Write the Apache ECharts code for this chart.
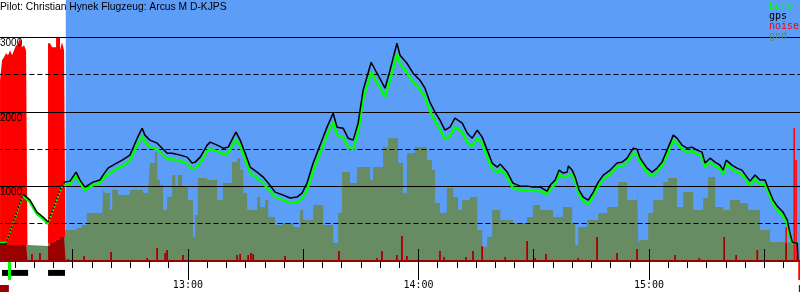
<!DOCTYPE html>
<html><head><meta charset="utf-8">
<script src="https://cdn.jsdelivr.net/npm/echarts@6/dist/echarts.min.js"></script>
<style>html,body{margin:0;padding:0;background:#fff}#c{width:800px;height:300px}</style>
</head><body><div id="c"></div>
<script>
// ---------- data (time = minutes since midnight, altitude = m, noise = ENL 0..1000) ----------
const titleText = 'Pilot: Christian Hynek Flugzeug: Arcus M D-KJPS';
const legendNames = ['baro', 'gps', 'noise', 'gnd'];
const hourTicks = [780, 840, 900]; // 13:00 14:00 15:00

const flightTimes = [731.1,732.7,734.7,737.1,738.9,740.7,742.3,743.6,745.4,747.2,748.0,749.3,750.9,751.9,753.2,755.3,757.1,757.9,759.2,761.0,762.9,764.9,766.8,768.1,768.8,770.1,772.0,773.3,774.6,775.9,778.0,779.8,781.1,781.9,783.2,785.0,785.8,787.6,789.2,790.5,791.8,792.5,793.6,794.9,796.2,798.0,799.6,800.9,802.7,804.8,806.6,808.4,809.7,811.0,812.6,814.4,816.2,817.8,818.8,820.4,821.7,823.0,824.3,825.6,827.7,829.2,830.5,831.3,832.6,834.4,835.2,837.0,838.6,840.4,841.7,843.0,844.3,845.6,846.9,848.2,849.5,851.4,852.7,854.0,855.3,856.6,857.9,859.2,860.5,861.3,863.1,864.6,866.5,868.3,869.8,871.7,873.5,874.3,875.6,876.6,877.7,878.7,879.0,880.0,880.8,881.8,882.9,884.2,885.5,886.8,888.1,889.9,891.7,893.0,894.3,895.9,896.9,897.7,899.5,900.8,902.1,903.4,904.7,905.8,906.3,907.3,908.6,909.9,911.2,912.5,913.8,914.6,915.9,917.2,918.5,919.3,920.1,921.6,922.9,924.2,925.5,926.3,927.6,928.9,930.2,931.0,932.3,933.6,934.9,936.0,936.7,937.3,938.0,938.6,938.8];
const gpsAlt = [228,228,549,897,817,656,589,522,777,1018,1058,1071,1192,1085,991,1058,1085,1152,1246,1299,1353,1420,1647,1781,1688,1621,1580,1513,1446,1446,1420,1393,1313,1326,1393,1554,1594,1554,1513,1527,1661,1728,1621,1446,1259,1192,1125,1045,924,884,844,857,911,1045,1313,1554,1795,1982,1795,1781,1647,1621,1848,2290,2665,2518,2397,2317,2558,2920,2759,2652,2518,2424,2317,2129,1996,1888,1754,1795,1915,1848,1714,1647,1754,1661,1487,1313,1259,1299,1192,1045,1004,1004,991,991,938,1018,1085,1219,1179,1192,1272,1219,1125,951,857,817,924,1058,1152,1219,1313,1326,1379,1513,1500,1379,1246,1192,1246,1326,1487,1621,1688,1647,1554,1513,1527,1487,1460,1313,1379,1326,1286,1219,1353,1286,1246,1219,1125,1071,1152,1085,1085,978,817,723,656,549,375,254,241,241,13];
const baroAlt = [241,241,536,870,790,629,562,495,750,991,1018,1031,1152,1045,951,1018,1045,1099,1166,1219,1273,1340,1553,1674,1594,1527,1500,1433,1366,1366,1340,1313,1233,1246,1313,1474,1500,1474,1433,1447,1567,1634,1541,1366,1179,1112,1045,965,857,817,777,790,831,951,1206,1447,1688,1862,1688,1661,1527,1500,1728,2170,2531,2397,2277,2197,2424,2785,2638,2531,2397,2303,2197,2009,1875,1767,1634,1674,1795,1728,1594,1540,1647,1567,1393,1233,1192,1232,1125,978,951,951,938,938,897,964,1031,1165,1125,1138,1150,1165,1071,897,803,763,870,1004,1098,1165,1259,1272,1325,1446,1433,1325,1192,1138,1192,1272,1420,1554,1621,1580,1500,1460,1473,1433,1406,1259,1325,1272,1232,1165,1299,1232,1192,1165,1071,1017,1098,1031,1031,924,763,669,602,495,321,241,241,241,241];
// periods with sparse fixes (drawn dotted) [from, to]
const sparseFix = [[732.7,737.1],[743.6,748.0]];

// ground elevation, step values [time, m]
const gndPts = [[731.1,214],[738.4,201],[743.6,241],[745.4,281],[746.7,321],[748.0,415],[751.1,442],[752.4,482],[753.7,643],[757.7,549],[757.9,951],[758.4,911],[759.7,683],[760.3,951],[761.8,884],[764.9,951],[768.3,911],[769.6,857],[770.1,1313],[771.4,1460],[772.0,1085],[772.7,1018],[773.5,683],[774.6,857],[775.9,1152],[776.7,991],[777.4,1152],[778.5,991],[780.0,817],[781.3,321],[781.9,616],[782.6,1112],[785.0,1085],[787.6,817],[789.1,1045],[791.5,1326],[792.8,1379],[793.6,1219],[794.4,911],[795.4,683],[798.0,857],[798.8,723],[800.1,817],[800.9,589],[802.7,482],[804.5,509],[807.4,455],[809.2,683],[810.0,549],[812.6,750],[815.2,482],[817.8,241],[819.1,643],[820.1,1192],[822.2,1045],[824.0,1259],[827.4,1085],[828.2,1259],[830.8,1527],[832.1,1647],[834.7,1313],[836.0,911],[837.0,1446],[839.1,1527],[842.2,1353],[843.5,1219],[844.3,777],[845.6,643],[847.4,978],[849.0,857],[850.3,683],[851.4,817],[853.4,857],[855.3,415],[856.6,188],[857.9,321],[859.2,683],[861.3,549],[864.6,509],[868.3,589],[869.8,750],[871.7,683],[875.0,589],[877.6,723],[880.0,509],[880.8,214],[881.6,455],[883.9,549],[886.8,643],[889.1,723],[892.0,1058],[894.3,817],[896.9,1058],[897.2,241],[897.7,281],[899.8,643],[901.1,817],[903.7,1058],[905.0,1112],[907.3,723],[908.9,924],[911.5,683],[914.1,844],[915.4,1125],[917.2,723],[919.3,683],[921.1,817],[923.7,777],[925.8,683],[928.9,415],[931.5,254],[934.9,241],[937.5,0]];

// engine noise (ENL) while the motor runs, step values
const engineNoise = [[731.10,808],[731.62,897],[732.14,911],[732.66,929],[733.18,920],[733.70,942],[734.22,920],[734.74,942],[735.26,964],[735.79,973],[736.31,1000],[736.83,955],[737.35,964],[737.87,942],[738.26,0],[743.59,973],[744.12,973],[744.64,955],[745.16,955],[745.68,996],[746.20,1000],[746.72,942],[747.24,978],[747.76,942],[748.15,0]];
// isolated noise spikes (ENL)
const noiseSpikes = [[739.4,31],[741.5,36],[748.8,9],[753.0,22],[760.0,40],[769.4,13],[772.0,58],[774.1,36],[774.6,49],[778.7,27],[792.8,27],[793.6,31],[795.7,27],[796.4,36],[797.0,31],[805.3,22],[819.3,45],[829.2,13],[830.5,45],[834.4,27],[835.7,112],[837.0,22],[845.6,45],[846.7,18],[852.4,18],[854.2,45],[856.6,67],[862.6,18],[868.3,89],[870.4,13],[873.2,31],[881.6,13],[886.5,107],[891.7,36],[896.9,54],[906.8,27],[913.1,13],[919.6,107],[922.7,27],[928.2,49],[935.7,152],[937.8,594],[938.3,451]];

const engineRuns = [[731.6,738.4],[743.6,748.0]];
const takeoffTime = 733.4, landingTime = 939.0, logStart = 731.0, logEnd = 940.0;
const glideStart = 748.2; // blue (engine-off) period start

const AXIS_MIN = 720, AXIS_MAX = 960, ALT_MAX = 3500;
const ENL_FULL_ALT = 3000; // ENL 1000 drawn at 3000 m
const NOISE_MAX = ALT_MAX * 1000 / ENL_FULL_ALT;

// ---------- styling ----------
const BLUE = '#5b9df7', OLIVE = '#678b63', LIME = '#00ff00', RED = '#ff0000', DARK = '#9a0000';
const GL = -42.6, GR = -79.5;

function gndAt(t) {
  let v = gndPts[0][1];
  for (const p of gndPts) { if (p[0] <= t) v = p[1]; else break; }
  return v;
}
const toEnl = m => m * 1000 / ENL_FULL_ALT;
const engineNoiseUnder = engineNoise.map(([t, v]) => [t, Math.min(v, toEnl(gndAt(t)))]);
const spikesUnder = noiseSpikes.map(([t, v]) => [t, Math.min(v, toEnl(gndAt(t)))]);

function splitTrack(vals) {
  const solid = [], dotted = [];
  flightTimes.forEach((t, i) => {
    const inside = sparseFix.some(([a, b]) => t > a && t < b);
    const onSpan = sparseFix.some(([a, b]) => t >= a && t <= b);
    solid.push([t, inside ? '-' : vals[i]]);
    dotted.push([t, onSpan ? vals[i] : '-']);
  });
  return { solid, dotted };
}
const baroTrack = splitTrack(baroAlt);
const gpsTrack = splitTrack(gpsAlt);

const fmtTime = v => Math.floor(v / 60) + ':' + String(Math.round(v % 60)).padStart(2, '0');
const legendColors = { baro: LIME, gps: '#000', noise: RED, gnd: OLIVE };

function trackSeries(name, data, color, width, dotted) {
  return { name, type: 'line', xAxisIndex: 0, yAxisIndex: 0, data, connectNulls: false,
    symbol: 'none', lineStyle: { color, width, type: dotted ? [1.5, 2] : 'solid' },
    itemStyle: { color }, z: 4 };
}

const chart = echarts.init(document.getElementById('c'), null, { renderer: 'canvas' });
chart.setOption({
  animation: false,
  backgroundColor: '#fff',
  title: {
    text: titleText, left: 0, top: 2.5, padding: 0,
    textStyle: { fontFamily: 'Liberation Sans', fontSize: 10.3, fontWeight: 'normal', color: '#000', lineHeight: 10 }
  },
  legend: {
    orient: 'vertical', left: 764, top: 1, padding: 0, itemGap: 0,
    itemWidth: 0, itemHeight: 0, icon: 'rect', selectedMode: false,
    textStyle: { fontFamily: 'DejaVu Sans Mono', fontSize: 10, lineHeight: 10 },
    data: legendNames.map(n => ({ name: n, textStyle: { color: legendColors[n] } }))
  },
  grid: [
    { left: GL, right: GR, top: 0, bottom: 39, outerBoundsMode: 'none', containLabel: false },
    { left: GL, right: GR, top: 262, height: 18, outerBoundsMode: 'none', containLabel: false },
    { left: GL, right: GR, top: 285, height: 7, outerBoundsMode: 'none', containLabel: false }
  ],
  xAxis: [
    { type: 'value', gridIndex: 0, min: AXIS_MIN, max: AXIS_MAX, interval: 60, z: 3,
      axisLine: { show: true, onZero: false, lineStyle: { color: DARK, width: 2 } },
      axisTick: { show: true, length: 19, lineStyle: { color: '#000', width: 1 } },
      minorTick: { show: true, splitNumber: 12, length: 7, lineStyle: { color: '#000', width: 1 } },
      axisLabel: { show: true, margin: 19, formatter: fmtTime, color: '#000',
        fontFamily: 'DejaVu Sans Mono', fontSize: 10, lineHeight: 10,
        customValues: hourTicks },
      splitLine: { show: false }, minorSplitLine: { show: false } },
    { type: 'value', gridIndex: 0, min: AXIS_MIN, max: AXIS_MAX, interval: 30, z: 3,
      axisLine: { show: false }, axisLabel: { show: false }, splitLine: { show: false },
      axisTick: { show: true, length: 12, lineStyle: { color: '#000', width: 1 } } },
    { type: 'value', gridIndex: 1, min: AXIS_MIN, max: AXIS_MAX, show: false },
    { type: 'value', gridIndex: 2, min: AXIS_MIN, max: AXIS_MAX, show: false }
  ],
  yAxis: [
    { type: 'value', gridIndex: 0, min: 0, max: ALT_MAX, interval: 1000, z: 3, offset: GL,
      axisLine: { show: false }, axisTick: { show: false },
      axisLabel: { show: true, inside: true, margin: 0, align: 'left', verticalAlign: 'top',
        lineHeight: 12, fontFamily: 'Liberation Sans', fontSize: 10, color: '#000',
        formatter: v => (v > 0 && v % 1000 === 0) ? String(v) : '' },
      splitLine: { show: true, showMinLine: false, showMaxLine: false, lineStyle: { color: '#000', width: 1 } } },
    { type: 'value', gridIndex: 0, min: 0, max: ALT_MAX, interval: 500, z: 3,
      axisLine: { show: false }, axisTick: { show: false }, axisLabel: { show: false },
      splitLine: { show: true, showMinLine: false, showMaxLine: false, lineStyle: { color: '#000', width: 1, type: [5, 3] } } },
    { type: 'value', gridIndex: 0, min: 0, max: NOISE_MAX, show: false },
    { type: 'category', gridIndex: 1, data: ['engine'], show: false },
    { type: 'value', gridIndex: 2, min: 0, max: 1, show: false }
  ],
  series: [
    { type: 'line', xAxisIndex: 0, yAxisIndex: 0, data: [], silent: true,
      markArea: { silent: true, itemStyle: { color: BLUE, opacity: 1 },
        data: [[{ xAxis: glideStart }, { xAxis: AXIS_MAX }]] } },
    { name: 'noise', type: 'line', xAxisIndex: 0, yAxisIndex: 2, step: 'end', data: engineNoise,
      symbol: 'none', lineStyle: { width: 0 }, itemStyle: { color: RED },
      areaStyle: { color: RED, opacity: 1 }, z: 2 },
    { name: 'noise', type: 'bar', xAxisIndex: 0, yAxisIndex: 2, data: noiseSpikes,
      barWidth: 1.5, barGap: '-100%', itemStyle: { color: RED }, z: 2 },
    { name: 'gnd', type: 'line', xAxisIndex: 0, yAxisIndex: 0, step: 'end', data: gndPts,
      symbol: 'none', lineStyle: { width: 0 }, itemStyle: { color: OLIVE },
      areaStyle: { color: OLIVE, opacity: 1 }, z: 2 },
    { type: 'line', xAxisIndex: 0, yAxisIndex: 2, step: 'end', data: engineNoiseUnder,
      symbol: 'none', lineStyle: { width: 0 }, areaStyle: { color: DARK, opacity: 1 }, z: 2 },
    { type: 'bar', xAxisIndex: 0, yAxisIndex: 2, data: spikesUnder,
      barWidth: 1.5, barGap: '-100%', itemStyle: { color: DARK }, z: 2 },
    trackSeries('baro', baroTrack.solid, LIME, 2.5, false),
    trackSeries('baro', baroTrack.dotted, LIME, 2, true),
    trackSeries('gps', gpsTrack.solid, '#000', 1.5, false),
    trackSeries('gps', gpsTrack.dotted, '#000', 1.2, true),
    { type: 'custom', xAxisIndex: 2, yAxisIndex: 3, data: engineRuns, silent: true,
      encode: { x: [0, 1] },
      renderItem: (params, api) => {
        const s = api.coord([api.value(0), 0]);
        const e = api.coord([api.value(1), 0]);
        const h = api.size([0, 1])[1];
        return { type: 'rect', shape: { x: s[0], y: s[1] - h * 0.06, width: e[0] - s[0], height: h * 0.33 },
          style: { fill: '#000' } };
      } },
    { type: 'line', xAxisIndex: 2, yAxisIndex: 3, data: [], silent: true,
      markLine: { silent: true, symbol: ['none', 'none'], label: { show: false },
        data: [ { xAxis: takeoffTime, lineStyle: { color: LIME, width: 3, type: 'solid' } },
                { xAxis: landingTime, lineStyle: { color: RED, width: 2.5, type: 'solid' } } ] } },
    { type: 'line', xAxisIndex: 3, yAxisIndex: 4, data: [], silent: true,
      markArea: { silent: true, itemStyle: { color: DARK, opacity: 1 },
        data: [[{ xAxis: logStart }, { xAxis: takeoffTime }], [{ xAxis: landingTime }, { xAxis: logEnd }]] } }
  ]
});
</script>
</body></html>
